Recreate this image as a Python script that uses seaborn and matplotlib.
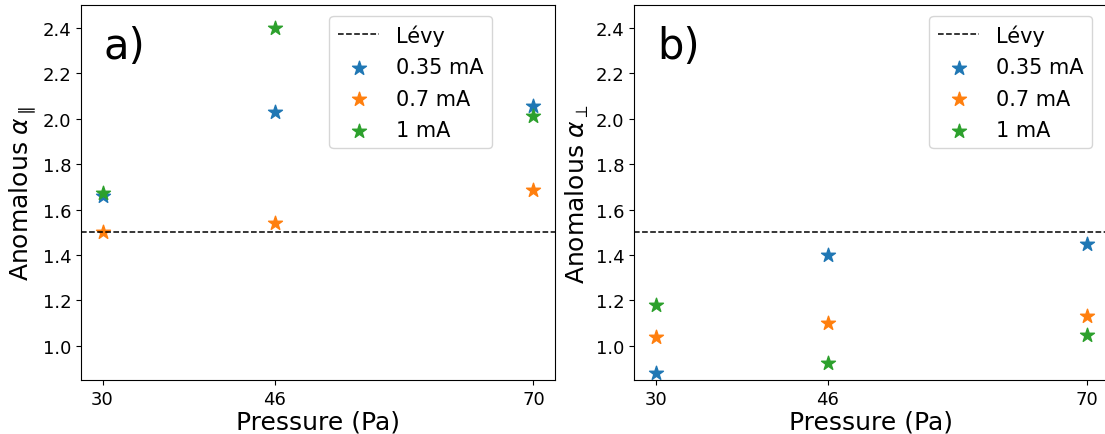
import numpy as np
import pandas as pd
import matplotlib
matplotlib.use("Agg")
import matplotlib.pyplot as plt
import seaborn as sns

# ---- data ----
pressure = [30, 46, 70]
currents = ["0.35 mA", "0.7 mA", "1 mA"]
alpha_par_035 = [1.66, 2.03, 2.055]
alpha_par_07 = [1.50, 1.54, 1.685]
alpha_par_1 = [1.675, 2.40, 2.01]
alpha_perp_035 = [0.88, 1.40, 1.45]
alpha_perp_07 = [1.04, 1.10, 1.13]
alpha_perp_1 = [1.18, 0.925, 1.05]
levy_value = 1.5
xtick_vals = [30, 46, 70]
ytick_vals = [1.0, 1.2, 1.4, 1.6, 1.8, 2.0, 2.2, 2.4]
colors = ["#1f77b4", "#ff7f0e", "#2ca02c"]

def long_df(series):
    rows = []
    for cur, vals in zip(currents, series):
        for p, v in zip(pressure, vals):
            rows.append({"Pressure": p, "alpha": v, "Current": cur})
    return pd.DataFrame(rows)

df_par = long_df([alpha_par_035, alpha_par_07, alpha_par_1])
df_perp = long_df([alpha_perp_035, alpha_perp_07, alpha_perp_1])

fig = plt.figure(figsize=(11.05, 4.35), dpi=100)
ax1 = fig.add_axes([0.0733, 0.1241, 0.4290, 0.8621])
ax2 = fig.add_axes([0.5738, 0.1241, 0.4290, 0.8621])

panels = [
    (ax1, df_par, r"Anomalous $\alpha_\parallel$", "a)", (0.867, 0.971)),
    (ax2, df_perp, r"Anomalous $\alpha_\perp$", "b)", (0.966, 0.971)),
]

for ax, df, ylabel, letter, leg_anchor in panels:
    ax.axhline(levy_value, color="black", linestyle="--", linewidth=1.1, label="Lévy")
    for cur, col in zip(currents, colors):
        sub = df[df["Current"] == cur]
        sns.scatterplot(data=sub, x="Pressure", y="alpha", marker="*", s=110,
                        color=col, edgecolor=col, linewidth=1.0, label=cur, ax=ax)
    ax.set_xlim(28, 72)
    ax.set_ylim(0.85, 2.5)
    ax.set_xticks(xtick_vals)
    ax.set_xticklabels([str(v) for v in xtick_vals])
    ax.set_yticks(ytick_vals)
    ax.tick_params(labelsize=13)
    ax.set_xlabel("Pressure (Pa)", fontsize=18, labelpad=1.5)
    ax.set_ylabel(ylabel, fontsize=18, labelpad=3)
    ax.text(0.048, 0.86, letter, transform=ax.transAxes, fontsize=30,
            ha="left", va="baseline")
    ax.legend(loc="upper right", bbox_to_anchor=leg_anchor, borderaxespad=0,
              fontsize=15, labelspacing=0.55, framealpha=0.8)

fig.savefig("out.png", dpi=100)
